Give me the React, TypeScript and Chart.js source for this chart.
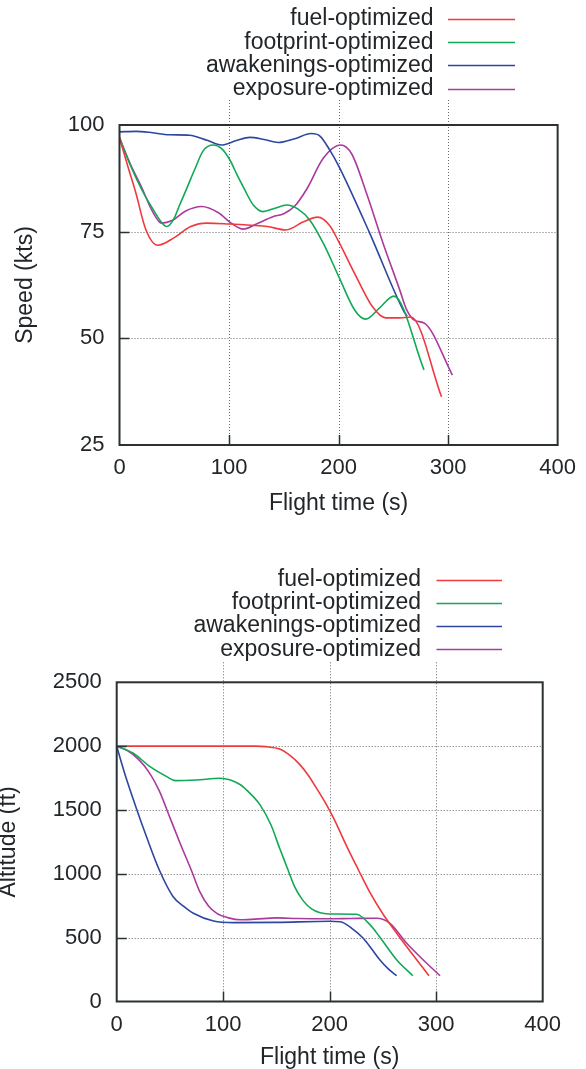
import React, { useEffect, useRef } from "react";
import { Chart, registerables } from "chart.js";

Chart.register(...registerables);

const seriesNames = ["fuel-optimized", "footprint-optimized", "awakenings-optimized", "exposure-optimized"];
const seriesColors = ["#ee3a3f", "#10a956", "#2d46a0", "#ab3a9e"];

const xTickValues = [0, 100, 200, 300, 400];
const speedTickValues = [25, 50, 75, 100];
const altitudeTickValues = [0, 500, 1000, 1500, 2000, 2500];

// ---- Speed (kts) vs flight time (s)
const fuelSpeedTime = [0, 8, 15, 24, 35, 50, 65, 80, 100, 120, 135, 152, 168, 181, 192, 200, 216, 231, 243, 256, 266, 294];
const fuelSpeed = [97, 90, 84, 75.5, 71.8, 73.6, 76.2, 77, 76.8, 76.5, 76.2, 75.4, 77.3, 78.4, 76.4, 72.7, 64.5, 57.4, 54.8, 54.8, 55.0, 36.3];

const footprintSpeedTime = [0, 10, 20, 30, 38, 43, 49, 55, 62, 69, 76.5, 85.6, 93, 100.8, 107, 113, 122, 131, 142, 152.5, 163, 173.8, 186, 200.5, 214.8, 224.8, 237, 250.4, 278];
const footprintSpeed = [97, 90.5, 85, 80.5, 77.3, 76.2, 77.7, 81.3, 85.5, 89.8, 94, 95.3, 94.5, 91.8, 88.5, 85.5, 81.3, 79.7, 80.5, 81.25, 80.3, 77.7, 72.3, 64.3, 56.6, 54.5, 57, 59.9, 42.6];

const awakeningsSpeedTime = [0, 15, 27, 46, 64, 80, 93, 106, 119, 132, 145, 160, 175, 183, 192, 200.5, 228.5, 259, 262.5];
const awakeningsSpeed = [98.4, 98.5, 98.3, 97.7, 97.6, 96.4, 95.3, 96.3, 97.1, 96.6, 95.9, 96.8, 98.0, 97.4, 94.1, 90.2, 74.6, 56.6, 55.2];

const exposureSpeedTime = [0, 10, 20, 30, 38.5, 48, 60, 75, 90, 102, 113, 125, 140, 150, 160, 171, 186, 201.8, 212, 225.5, 240.6, 255.9, 262, 269.5, 278.7, 303.9];
const exposureSpeed = [97, 90.8, 85.5, 79.8, 77, 77.6, 79.8, 80.9, 79.5, 77, 75.6, 76.8, 78.5, 79.2, 81, 85, 92.2, 95.3, 93.2, 84, 72.3, 61.3, 56.8, 54.2, 53.5, 41.4];

// ---- Altitude (ft) vs flight time (s)
const fuelAltTime = [0, 60, 130, 140, 153, 163, 172, 180, 188, 196, 204, 216, 227, 238, 250, 262, 275, 293.2];
const fuelAlt = [2000, 2000, 2000, 1996, 1977, 1925, 1855, 1770, 1665, 1555, 1430, 1215, 1030, 850, 685, 545, 400, 202];

const footprintAltTime = [0, 15.6, 31.3, 47, 55, 75, 97, 115.8, 122, 134.6, 145, 153, 160, 167, 175, 183, 191, 205, 225, 238, 247, 263, 278];
const footprintAlt = [2000, 1944, 1839, 1761, 1730, 1735, 1748, 1700, 1656, 1540, 1380, 1200, 1050, 900, 790, 725, 695, 685, 683, 600, 505, 325, 202];

const awakeningsAltTime = [0, 7, 19, 28, 40, 53, 63, 72, 91, 110, 150, 200, 210, 222, 231.5, 240, 247.2, 255, 262.9];
const awakeningsAlt = [2000, 1800, 1500, 1290, 1030, 821, 745, 691, 630, 618, 620, 628, 625, 565, 495, 405, 325, 255, 202];

const exposureAltTime = [0, 10, 20, 30, 40, 50, 60, 70, 78, 86, 94, 105, 116, 130, 150, 170, 200, 220, 244, 256.6, 272.3, 287.9, 303.6];
const exposureAlt = [2000, 1965, 1900, 1800, 1650, 1440, 1230, 1030, 860, 750, 690, 655, 640, 645, 655, 650, 648, 650, 652, 612, 456, 325, 202];

const FONT = "'Liberation Sans', Arial, Helvetica, sans-serif";
const TEXT_COLOR = "#222629";

const pairs = (xs: number[], ys: number[]) => xs.map((x, i) => ({ x, y: ys[i] }));

type Decor = {
  yTitle: string;
  yTitleX: number;
  xTitleY: number;
  gridExt: number;
  legendTextRight: number;
  legendLineStart: number;
  legendLineEnd: number;
  legendRows: number[];
  xGrid: number[];
  yGrid: number[];
};

const makeDecorPlugin = (d: Decor) => ({
  id: "decor",
  beforeDatasetsDraw(chart: any) {
    const { ctx, chartArea: a, scales } = chart;
    const x = scales.x;
    const y = scales.y;
    ctx.save();
    ctx.strokeStyle = "#6a6a6a";
    ctx.lineWidth = 1;
    ctx.setLineDash([1, 2]);
    for (const v of d.xGrid) {
      const px = Math.round(x.getPixelForValue(v)) + 0.5;
      ctx.beginPath();
      ctx.moveTo(px, a.top - d.gridExt);
      ctx.lineTo(px, a.bottom);
      ctx.stroke();
    }
    for (const v of d.yGrid) {
      const py = Math.round(y.getPixelForValue(v)) + 0.5;
      ctx.beginPath();
      ctx.moveTo(a.left, py);
      ctx.lineTo(a.right, py);
      ctx.stroke();
    }
    ctx.restore();
  },
  afterDatasetsDraw(chart: any) {
    const { ctx, chartArea: a, scales } = chart;
    const x = scales.x;
    const y = scales.y;
    ctx.save();
    ctx.strokeStyle = "#2b3032";
    ctx.lineWidth = 1.5;
    for (const v of d.xGrid) {
      const px = Math.round(x.getPixelForValue(v)) + 0.5;
      ctx.beginPath();
      ctx.moveTo(px, a.bottom);
      ctx.lineTo(px, a.bottom - 10);
      ctx.stroke();
    }
    for (const v of d.yGrid) {
      const py = Math.round(y.getPixelForValue(v)) + 0.5;
      ctx.beginPath();
      ctx.moveTo(a.left, py);
      ctx.lineTo(a.left + 10, py);
      ctx.stroke();
    }
    ctx.lineWidth = 2;
    ctx.strokeRect(a.left, a.top, a.right - a.left, a.bottom - a.top);

    ctx.fillStyle = TEXT_COLOR;
    ctx.font = `23px ${FONT}`;
    ctx.textAlign = "center";
    ctx.textBaseline = "middle";
    ctx.fillText("Flight time (s)", (a.left + a.right) / 2, d.xTitleY);
    ctx.save();
    ctx.translate(d.yTitleX, (a.top + a.bottom) / 2);
    ctx.rotate(-Math.PI / 2);
    ctx.fillText(d.yTitle, 0, 0);
    ctx.restore();

    ctx.textAlign = "right";
    chart.data.datasets.forEach((ds: any, i: number) => {
      const ry = d.legendRows[i];
      ctx.fillStyle = TEXT_COLOR;
      ctx.fillText(ds.label, d.legendTextRight, ry);
      ctx.strokeStyle = ds.borderColor;
      ctx.lineWidth = 1.5;
      ctx.beginPath();
      ctx.moveTo(d.legendLineStart, Math.round(ry) + 0.5);
      ctx.lineTo(d.legendLineEnd, Math.round(ry) + 0.5);
      ctx.stroke();
    });
    ctx.restore();
  },
});

type ChartSpec = {
  width: number;
  height: number;
  series: { x: number[]; y: number[] }[];
  yMin: number;
  yMax: number;
  yTicks: number[];
  yAxisWidth: number;
  xAxisHeight: number;
  padTop: number;
  padRight: number;
  decor: Decor;
};

function LineChart({ spec }: { spec: ChartSpec }) {
  const ref = useRef<HTMLCanvasElement | null>(null);
  useEffect(() => {
    if (!ref.current) return;
    const chart = new Chart(ref.current, {
      type: "line",
      data: {
        datasets: spec.series.map((s, i) => ({
          label: seriesNames[i],
          data: pairs(s.x, s.y),
          borderColor: seriesColors[i],
          backgroundColor: seriesColors[i],
          borderWidth: 1.6,
          pointRadius: 0,
          fill: false,
          cubicInterpolationMode: "monotone" as const,
        })),
      },
      options: {
        responsive: false,
        animation: false,
        events: [],
        layout: { padding: { top: spec.padTop, right: spec.padRight, left: 0, bottom: 0 } },
        plugins: { legend: { display: false }, tooltip: { enabled: false }, title: { display: false } },
        scales: {
          x: {
            type: "linear",
            min: 0,
            max: 400,
            afterBuildTicks: (s: any) => {
              s.ticks = xTickValues.map((v) => ({ value: v }));
            },
            afterFit: (s: any) => {
              s.height = spec.xAxisHeight;
            },
            ticks: { color: TEXT_COLOR, font: { family: FONT, size: 22 }, padding: 10, maxRotation: 0, callback: (v: any) => String(v) },
            grid: { display: false, drawTicks: false },
            border: { display: false },
          },
          y: {
            type: "linear",
            min: spec.yMin,
            max: spec.yMax,
            afterBuildTicks: (s: any) => {
              s.ticks = spec.yTicks.map((v) => ({ value: v }));
            },
            afterFit: (s: any) => {
              s.width = spec.yAxisWidth;
            },
            ticks: { color: TEXT_COLOR, font: { family: FONT, size: 22 }, padding: 15, callback: (v: any) => String(v) },
            grid: { display: false, drawTicks: false },
            border: { display: false },
          },
        },
      },
      plugins: [makeDecorPlugin(spec.decor)],
    } as any);
    return () => chart.destroy();
  }, [spec]);
  return <canvas ref={ref} width={spec.width} height={spec.height} style={{ display: "block" }} />;
}

const speedSpec: ChartSpec = {
  width: 586,
  height: 540,
  series: [
    { x: fuelSpeedTime, y: fuelSpeed },
    { x: footprintSpeedTime, y: footprintSpeed },
    { x: awakeningsSpeedTime, y: awakeningsSpeed },
    { x: exposureSpeedTime, y: exposureSpeed },
  ],
  yMin: 25,
  yMax: 100,
  yTicks: speedTickValues,
  yAxisWidth: 119.5,
  xAxisHeight: 95,
  padTop: 125,
  padRight: 28,
  decor: {
    yTitle: "Speed (kts)",
    yTitleX: 26,
    xTitleY: 503.3,
    gridExt: 25,
    legendTextRight: 433.5,
    legendLineStart: 448,
    legendLineEnd: 515,
    legendRows: [19, 42.2, 65.4, 88.6],
    xGrid: [100, 200, 300],
    yGrid: [50, 75],
  },
};

const altitudeSpec: ChartSpec = {
  width: 586,
  height: 529,
  series: [
    { x: fuelAltTime, y: fuelAlt },
    { x: footprintAltTime, y: footprintAlt },
    { x: awakeningsAltTime, y: awakeningsAlt },
    { x: exposureAltTime, y: exposureAlt },
  ],
  yMin: 0,
  yMax: 2500,
  yTicks: altitudeTickValues,
  yAxisWidth: 116.7,
  xAxisHeight: 67.5,
  padTop: 142.3,
  padRight: 43.3,
  decor: {
    yTitle: "Altitude (ft)",
    yTitleX: 9,
    xTitleY: 518,
    gridExt: 20,
    legendTextRight: 421,
    legendLineStart: 436.5,
    legendLineEnd: 502,
    legendRows: [40, 63, 86, 109.3],
    xGrid: [100, 200, 300],
    yGrid: [500, 1000, 1500, 2000],
  },
};

export default function App() {
  return (
    <div style={{ position: "absolute", left: 0, top: 0, width: 586, height: 1069, background: "#fff" }}>
      <div style={{ position: "absolute", left: 0, top: 0 }}>
        <LineChart spec={speedSpec} />
      </div>
      <div style={{ position: "absolute", left: 0, top: 540 }}>
        <LineChart spec={altitudeSpec} />
      </div>
    </div>
  );
}
